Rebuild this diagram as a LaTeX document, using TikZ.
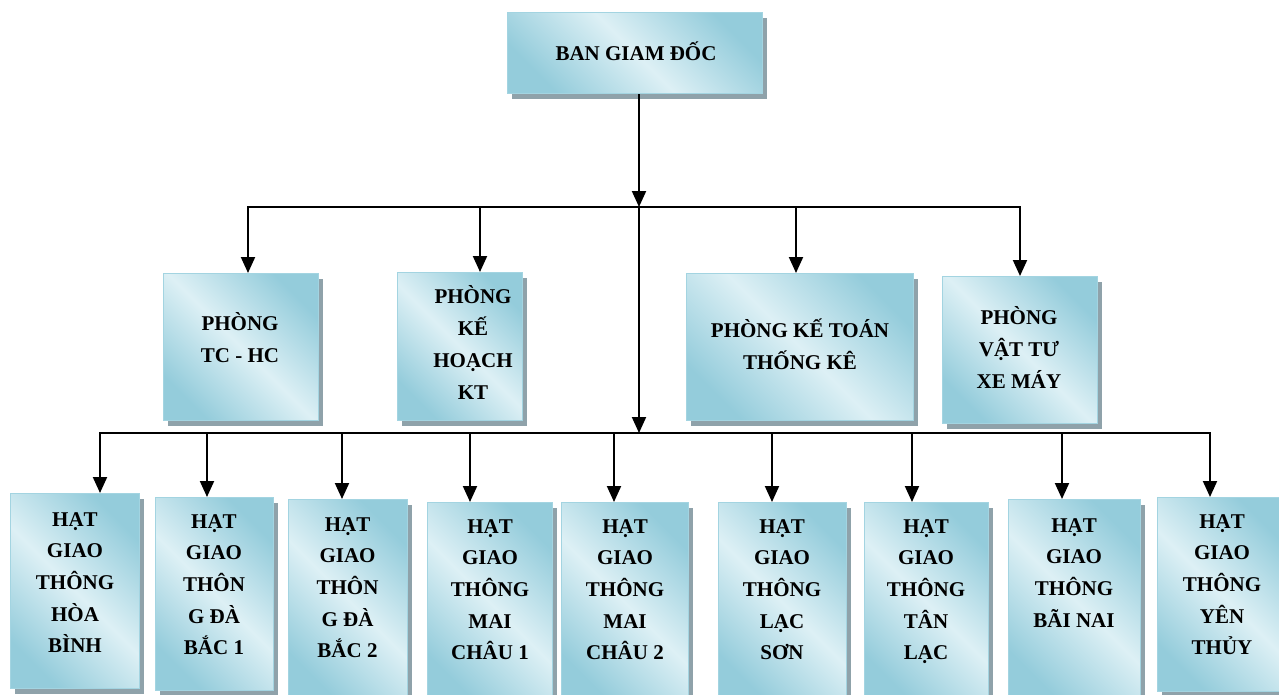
\documentclass[tikz,border=0pt]{standalone}
\usepackage{fontspec}
\setmainfont{Liberation Serif}
\usetikzlibrary{arrows.meta,shadows}
\definecolor{dk}{HTML}{94CCDB}
\definecolor{lt}{HTML}{DDF0F5}
\definecolor{bd}{HTML}{A3D4E1}
\definecolor{shc}{HTML}{8FA2AA}
\newcommand{\ml}[1]{\begin{tabular}[t]{@{}c@{}}#1\end{tabular}}
\begin{document}
\begin{tikzpicture}[x=1pt,y=-1pt,
  box/.style={draw=bd, line width=1pt, top color=dk, bottom color=dk, middle color=lt, shading angle=-45,
    general shadow={fill=shc, shadow xshift=4pt, shadow yshift=-5pt}, anchor=north west, inner sep=0pt},
  lbl/.style={font=\bfseries\fontsize{21}{32}\selectfont, anchor=base, inner sep=0pt},
  lblb/.style={font=\bfseries\fontsize{21}{31.7}\selectfont, anchor=base, inner sep=0pt},
  arr/.style={line width=2pt, -{Triangle[width=14pt,length=16pt]}},
  ln/.style={line width=2pt}]
\clip (0,0) rectangle (1279,694);
\useasboundingbox (0,0) rectangle (1279,694);
% boxes
\node[box, minimum width=255pt, minimum height=81pt] (bgd) at (507,12) {};
\node[box, minimum width=155pt, minimum height=147pt] (p1) at (163,273) {};
\node[box, minimum width=125pt, minimum height=148pt] (p2) at (397,272) {};
\node[box, minimum width=227pt, minimum height=147pt] (p3) at (686,273) {};
\node[box, minimum width=155pt, minimum height=147pt] (p4) at (942,276) {};
\node[box, minimum width=129pt, minimum height=195pt] (h1) at (10,493) {};
\node[box, minimum width=118pt, minimum height=193pt] (h2) at (155,497) {};
\node[box, minimum width=119pt, minimum height=200pt] (h3) at (288,499) {};
\node[box, minimum width=125pt, minimum height=200pt] (h4) at (427,502) {};
\node[box, minimum width=127pt, minimum height=200pt] (h5) at (561,502) {};
\node[box, minimum width=128pt, minimum height=200pt] (h6) at (718,502) {};
\node[box, minimum width=124pt, minimum height=200pt] (h7) at (864,502) {};
\node[box, minimum width=132pt, minimum height=200pt] (h8) at (1008,499) {};
\node[box, minimum width=128pt, minimum height=194pt] (h9) at (1157,497) {};
% labels
\node[lbl] (t0) at (636,60) {BAN GIAM ĐỐC};
\node[lbl] (t1) at (240,330) {\ml{PHÒNG\\TC - HC}};
\node[lbl] (t2) at (473,303) {\ml{PHÒNG\\KẾ\\HOẠCH\\KT}};
\node[lbl] (t3) at (800,337) {\ml{PHÒNG KẾ TOÁN\\THỐNG KÊ}};
\node[lbl] (t4) at (1019,324) {\ml{PHÒNG\\VẬT TƯ\\XE MÁY}};
\node[lblb] (u1) at (75,526) {\ml{HẠT\\GIAO\\THÔNG\\HÒA\\BÌNH}};
\node[lblb] (u2) at (214,528) {\ml{HẠT\\GIAO\\THÔN\\G ĐÀ\\BẮC 1}};
\node[lblb] (u3) at (347.5,531) {\ml{HẠT\\GIAO\\THÔN\\G ĐÀ\\BẮC 2}};
\node[lblb] (u4) at (490,533) {\ml{HẠT\\GIAO\\THÔNG\\MAI\\CHÂU 1}};
\node[lblb] (u5) at (625,533) {\ml{HẠT\\GIAO\\THÔNG\\MAI\\CHÂU 2}};
\node[lblb] (u6) at (782,533) {\ml{HẠT\\GIAO\\THÔNG\\LẠC\\SƠN}};
\node[lblb] (u7) at (926,533) {\ml{HẠT\\GIAO\\THÔNG\\TÂN\\LẠC}};
\node[lblb] (u8) at (1074,532) {\ml{HẠT\\GIAO\\THÔNG\\BÃI NAI}};
\node[lblb] (u9) at (1222,528) {\ml{HẠT\\GIAO\\THÔNG\\YÊN\\THỦY}};
% junctions
\coordinate (j1) at (639,207);
\coordinate (j2) at (639,433);
\coordinate (a1) at (248,207);
\coordinate (a2) at (480,207);
\coordinate (a3) at (796,207);
\coordinate (a4) at (1020,207);
\coordinate (b1) at (100,433);
\coordinate (b2) at (207,433);
\coordinate (b3) at (342,433);
\coordinate (b4) at (470,433);
\coordinate (b5) at (614,433);
\coordinate (b6) at (772,433);
\coordinate (b7) at (912,433);
\coordinate (b8) at (1062,433);
\coordinate (b9) at (1210,433);
% connectors
\draw[arr] (bgd.south -| j1) -- (j1);
\draw[arr] (j1) -- (j2);
\draw[ln, line cap=rect] (a1) -- (a4);
\draw[ln, line cap=rect] (b1) -- (b9);
\draw[arr] (a1) -- (a1 |- p1.north);
\draw[arr] (a2) -- (a2 |- p2.north);
\draw[arr] (a3) -- (a3 |- p3.north);
\draw[arr] (a4) -- (a4 |- p4.north);
\draw[arr] (b1) -- (b1 |- h1.north);
\draw[arr] (b2) -- (b2 |- h2.north);
\draw[arr] (b3) -- (b3 |- h3.north);
\draw[arr] (b4) -- (b4 |- h4.north);
\draw[arr] (b5) -- (b5 |- h5.north);
\draw[arr] (b6) -- (b6 |- h6.north);
\draw[arr] (b7) -- (b7 |- h7.north);
\draw[arr] (b8) -- (b8 |- h8.north);
\draw[arr] (b9) -- (b9 |- h9.north);
\end{tikzpicture}
\end{document}
